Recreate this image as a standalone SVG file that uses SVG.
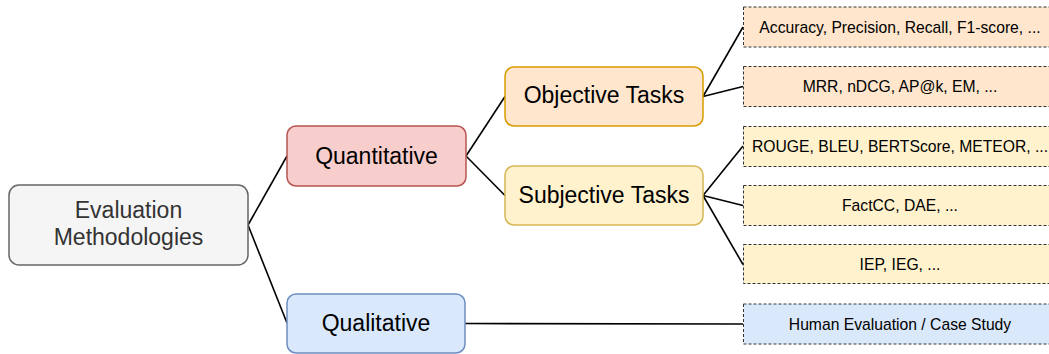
<svg xmlns="http://www.w3.org/2000/svg" width="1049" height="354" viewBox="0 0 1049 354">
<style>
.node{stroke-width:1.5}
.main{font-family:"Liberation Sans",Arial,sans-serif;font-size:23px;text-anchor:middle;fill:#000}
.leaf{stroke:#333;stroke-width:1;stroke-dasharray:3 2}
.lt{font-family:"Liberation Sans",Arial,sans-serif;font-size:15.7px;text-anchor:middle;fill:#000}
.conn{stroke:#000;stroke-width:1.6;fill:none}
</style>
<rect width="1049" height="354" fill="#fff"/>
<g id="connectors">
<line class="conn" x1="248" y1="225" x2="287" y2="156"/>
<line class="conn" x1="248" y1="225" x2="287" y2="323"/>
<line class="conn" x1="466" y1="156" x2="505" y2="96.5"/>
<line class="conn" x1="466" y1="156" x2="505" y2="195.5"/>
<line class="conn" x1="703" y1="96.5" x2="743" y2="27"/>
<line class="conn" x1="703" y1="96.5" x2="743" y2="86.5"/>
<line class="conn" x1="703" y1="195.5" x2="743" y2="146"/>
<line class="conn" x1="703" y1="195.5" x2="743" y2="205.5"/>
<line class="conn" x1="703" y1="195.5" x2="743" y2="264.5"/>
<line class="conn" x1="465" y1="323.5" x2="743" y2="324"/>
</g>
<g id="evaluation">
<rect class="node" x="9" y="185" width="239" height="80" rx="10" fill="#f5f5f5" stroke="#666"/>
<text class="main" x="128.5" y="218" style="fill:#333">Evaluation</text>
<text class="main" x="128.5" y="245" style="fill:#333">Methodologies</text>
</g>
<g id="quantitative">
<rect class="node" x="287" y="126" width="179" height="60" rx="9" fill="#f8cecc" stroke="#b85450"/>
<text class="main" x="376.5" y="164">Quantitative</text>
</g>
<g id="qualitative">
<rect class="node" x="287" y="294" width="178" height="59" rx="9" fill="#dae8fc" stroke="#6c8ebf"/>
<text class="main" x="376" y="331">Qualitative</text>
</g>
<g id="objective">
<rect class="node" x="505" y="67" width="198" height="59" rx="9" fill="#ffe6cc" stroke="#d79b00"/>
<text class="main" x="604" y="103">Objective Tasks</text>
</g>
<g id="subjective">
<rect class="node" x="505" y="166" width="198" height="59" rx="9" fill="#fff2cc" stroke="#d6b656"/>
<text class="main" x="604" y="203">Subjective Tasks</text>
</g>
<g id="leaf1">
<rect class="leaf" x="743.5" y="7" width="314" height="40" fill="#ffe6cc"/>
<text class="lt" x="900" y="32.5">Accuracy, Precision, Recall, F1-score, ...</text>
</g>
<g id="leaf2">
<rect class="leaf" x="743.5" y="66.5" width="314" height="40" fill="#ffe6cc"/>
<text class="lt" x="900" y="92">MRR, nDCG, AP@k, EM, ...</text>
</g>
<g id="leaf3">
<rect class="leaf" x="743.5" y="126.5" width="314" height="40" fill="#fff2cc"/>
<text class="lt" x="900" y="152">ROUGE, BLEU, BERTScore, METEOR, ...</text>
</g>
<g id="leaf4">
<rect class="leaf" x="743.5" y="185.5" width="314" height="40" fill="#fff2cc"/>
<text class="lt" x="900" y="211">FactCC, DAE, ...</text>
</g>
<g id="leaf5">
<rect class="leaf" x="743.5" y="244.5" width="314" height="39" fill="#fff2cc"/>
<text class="lt" x="900" y="270">IEP, IEG, ...</text>
</g>
<g id="leaf6">
<rect class="leaf" x="743.5" y="304" width="314" height="40" fill="#dae8fc"/>
<text class="lt" x="900" y="329.5">Human Evaluation / Case Study</text>
</g>
</svg>
